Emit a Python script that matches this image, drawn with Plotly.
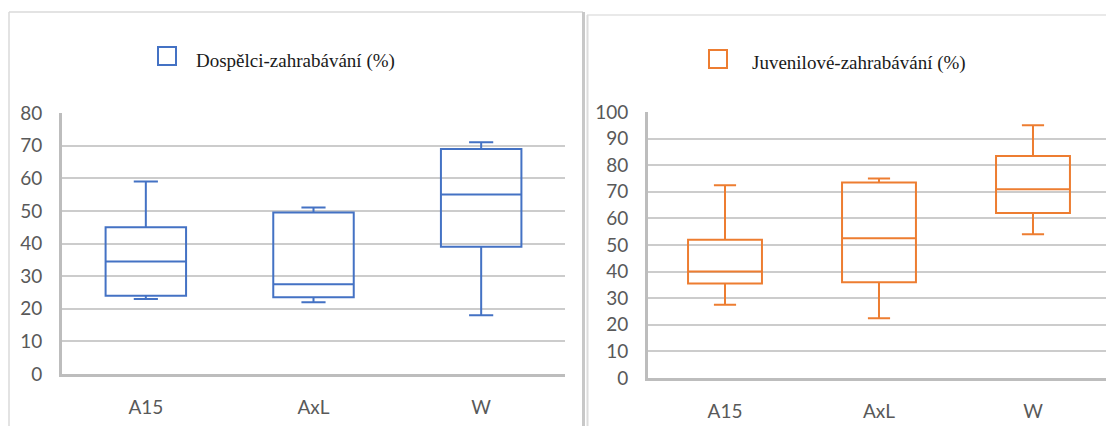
import plotly.graph_objects as go

W, H = 1114, 426
OFF = 8  # page body margin offset

categories = ["A15", "AxL", "W"]

# Dospělci-zahrabávání (%)
adult_min = [23, 22, 18]
adult_q1 = [24, 23.5, 39]
adult_med = [34.5, 27.5, 55]
adult_q3 = [45, 49.5, 69]
adult_max = [59, 51, 71]

# Juvenilové-zahrabávání (%)
juv_min = [27.5, 22.5, 54]
juv_q1 = [35.5, 36, 62]
juv_med = [40, 52.5, 71]
juv_q3 = [52, 73.5, 83.5]
juv_max = [72.5, 75, 95]

adult_ticks = [0, 10, 20, 30, 40, 50, 60, 70, 80]
juv_ticks = [0, 10, 20, 30, 40, 50, 60, 70, 80, 90, 100]

BLUE = "#4472C4"
ORANGE = "#ED7D31"
GRID = "#cccccc"
AXIS = "#bdbdbd"
TXT = "#595959"


def px(x):
    return (x - OFF) / W


def py(y):
    return 1 - (y - OFF) / H


fig = go.Figure()
fig.add_trace(go.Box(
    x=categories, q1=adult_q1, median=adult_med, q3=adult_q3,
    lowerfence=adult_min, upperfence=adult_max,
    name="Dospělci-zahrabávání (%)",
    line=dict(color=BLUE, width=2), fillcolor="rgba(255,255,255,0)",
    whiskerwidth=0.3, width=0.48, boxpoints=False,
    xaxis="x", yaxis="y", showlegend=False,
))
fig.add_trace(go.Box(
    x=categories, q1=juv_q1, median=juv_med, q3=juv_q3,
    lowerfence=juv_min, upperfence=juv_max,
    name="Juvenilové-zahrabávání (%)",
    line=dict(color=ORANGE, width=2), fillcolor="rgba(255,255,255,0)",
    whiskerwidth=0.3, width=0.48, boxpoints=False,
    xaxis="x2", yaxis="y2", showlegend=False,
))

tickfont = dict(family="Lato, 'Noto Sans', sans-serif", size=19, color=TXT)

xcommon = dict(
    type="category", showgrid=False, showline=True, linecolor=AXIS, linewidth=3,
    ticks="", tickfont=tickfont, ticklabelstandoff=14, zeroline=False,
    automargin=False, autorange=False,
)
ycommon = dict(
    showgrid=True, gridcolor=GRID, gridwidth=1.5, showline=True, linecolor=AXIS,
    linewidth=3, ticks="", tickfont=tickfont, ticklabelstandoff=13,
    zeroline=False, tickmode="array", automargin=False,
)

fig.update_layout(
    width=W, height=H,
    margin=dict(l=0, r=0, t=0, b=0, autoexpand=False),
    paper_bgcolor="white", plot_bgcolor="white",
    xaxis=dict(domain=[px(62), px(565)], anchor="y", range=[-0.5, 2.5], **xcommon),
    yaxis=dict(domain=[py(374), py(113)], anchor="x", range=[0, 80],
               tickvals=adult_ticks, **ycommon),
    xaxis2=dict(domain=[px(648), px(1122)], anchor="y2", range=[-0.5, 2.578], **xcommon),
    yaxis2=dict(domain=[py(378), py(112)], anchor="x2", range=[0, 100],
                tickvals=juv_ticks, **ycommon),
    showlegend=False,
)

# panel frames
shapes = [
    dict(type="line", x0=px(9), x1=px(583), y0=py(12), y1=py(12),
         line=dict(color="#dadada", width=1.5)),
    dict(type="line", x0=px(9), x1=px(9), y0=py(12), y1=py(440),
         line=dict(color="#dadada", width=1.5)),
    dict(type="line", x0=px(583.5), x1=px(583.5), y0=py(12), y1=py(440),
         line=dict(color="#c8c8c8", width=3)),
    dict(type="line", x0=px(587), x1=px(1125), y0=py(15), y1=py(15),
         line=dict(color="#e2e2e2", width=1.5)),
    dict(type="line", x0=px(587.5), x1=px(587.5), y0=py(15), y1=py(440),
         line=dict(color="#dcdcdc", width=2)),
    # legend squares
    dict(type="rect", x0=px(158), x1=px(176), y0=py(47), y1=py(65),
         line=dict(color=BLUE, width=2), fillcolor="white"),
    dict(type="rect", x0=px(709), x1=px(727), y0=py(50), y1=py(68),
         line=dict(color=ORANGE, width=2), fillcolor="white"),
]
for s in shapes:
    s["xref"] = "paper"
    s["yref"] = "paper"
fig.update_layout(shapes=shapes)

legfont = dict(family="'Liberation Serif', 'Times New Roman', serif", size=19, color="#1a1a1a")
fig.add_annotation(x=px(194), y=py(61), xref="paper", yref="paper",
                   text="Dospělci-zahrabávání (%)", showarrow=False,
                   xanchor="left", yanchor="middle", font=legfont)
fig.add_annotation(x=px(750), y=py(63), xref="paper", yref="paper",
                   text="Juvenilové-zahrabávání (%)", showarrow=False,
                   xanchor="left", yanchor="middle", font=legfont)

fig.write_html("out.html")
